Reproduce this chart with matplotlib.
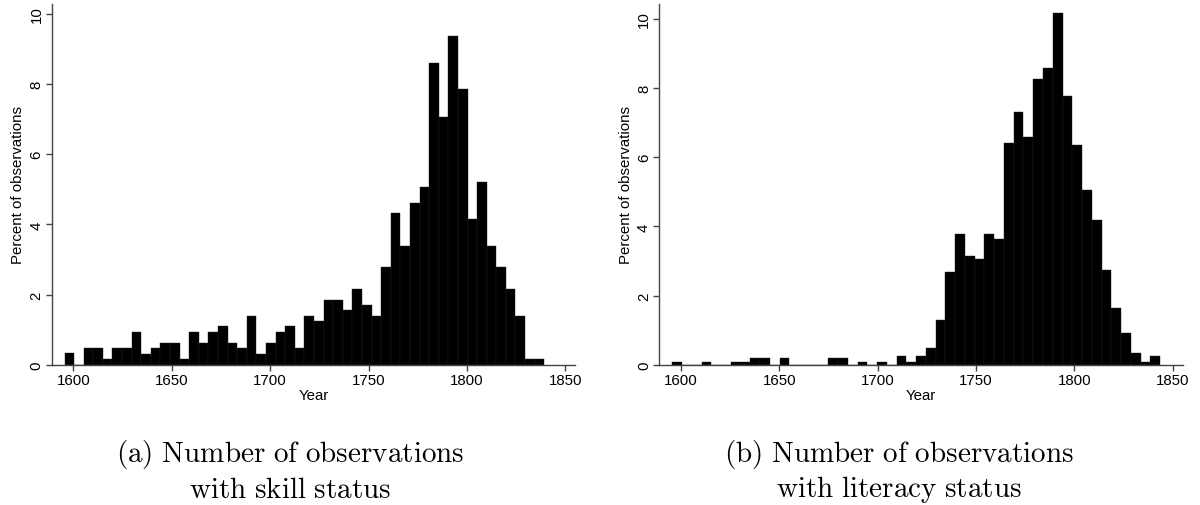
import matplotlib
matplotlib.use('Agg')
import matplotlib.pyplot as plt
import numpy as np

# percent of observations per bin (50 bins each)
skill_pct = [0.33, 0, 0.47, 0.47, 0.16, 0.47, 0.47, 0.94, 0.31, 0.47,
             0.63, 0.63, 0.16, 0.94, 0.63, 0.94, 1.09, 0.63, 0.47, 1.40,
             0.31, 0.63, 0.94, 1.09, 0.47, 1.40, 1.24, 1.85, 1.85, 1.56,
             2.16, 1.71, 1.40, 2.77, 4.31, 3.39, 4.62, 5.07, 8.61, 7.07,
             9.37, 7.85, 4.15, 5.22, 3.39, 2.77, 2.16, 1.40, 0.16, 0.16]
skill_years = (1595.5, 1839.3)

literacy_pct = [0.09, 0, 0, 0.09, 0, 0, 0.09, 0.09, 0.18, 0.18,
                0, 0.18, 0, 0, 0, 0, 0.18, 0.18, 0, 0.09,
                0, 0.09, 0, 0.26, 0.09, 0.26, 0.49, 1.30, 2.67, 3.78,
                3.13, 3.06, 3.78, 3.64, 6.41, 7.30, 6.58, 8.26, 8.58, 10.17,
                7.76, 6.35, 5.05, 4.19, 2.74, 1.63, 0.91, 0.34, 0.09, 0.26]
literacy_years = (1595.6, 1843.5)

year_ticks = [1600, 1650, 1700, 1750, 1800, 1850]
pct_ticks = [0, 2, 4, 6, 8, 10]
captions = ['(a) Number of observations\nwith skill status',
            '(b) Number of observations\nwith literacy status']

plt.rcParams['font.family'] = ['Liberation Sans', 'DejaVu Sans']
plt.rcParams['mathtext.fontset'] = 'cm'
axcol = '#444444'

fig = plt.figure(figsize=(12, 5.06), dpi=100)

panels = [
    (skill_pct, skill_years, 0.0431, 10.28, 290),
    (literacy_pct, literacy_years, 0.5494, 10.43, 899),
]
for i, (pct, yrs, left, ytop, capx) in enumerate(panels):
    ax = fig.add_axes([left, 0.2773, 0.4362, 0.7129])
    edges = np.linspace(yrs[0], yrs[1], len(pct) + 1)
    ax.bar(edges[:-1], pct, width=np.diff(edges), align='edge',
           color='black', edgecolor='#222222', linewidth=0.3)
    ax.set_xlim(1589, 1855)
    ax.set_ylim(0, ytop)
    for s in ['top', 'right']:
        ax.spines[s].set_visible(False)
    for s in ['left', 'bottom']:
        ax.spines[s].set_color(axcol)
        ax.spines[s].set_linewidth(1.0)
    ax.set_xticks(year_ticks)
    ax.set_yticks(pct_ticks)
    ax.tick_params(axis='both', length=4, width=1.0, color=axcol,
                   labelsize=10.8, pad=2)
    plt.setp(ax.get_yticklabels(), rotation=90, va='center')
    ax.set_xlabel('Year', fontsize=10.8, labelpad=1)
    ax.set_ylabel('Percent of observations', fontsize=10.8, labelpad=3)

    # caption under each panel, Computer Modern look
    lines = captions[i].split('\n')
    for j, line in enumerate(lines):
        txt = r'$\mathrm{' + line.replace(' ', r'\ ') + '}$'
        fig.text(capx / 1200, 1 - (455 + 35 * j) / 506, txt,
                 ha='center', va='center', fontsize=21)

fig.savefig('out.png', dpi=100)
